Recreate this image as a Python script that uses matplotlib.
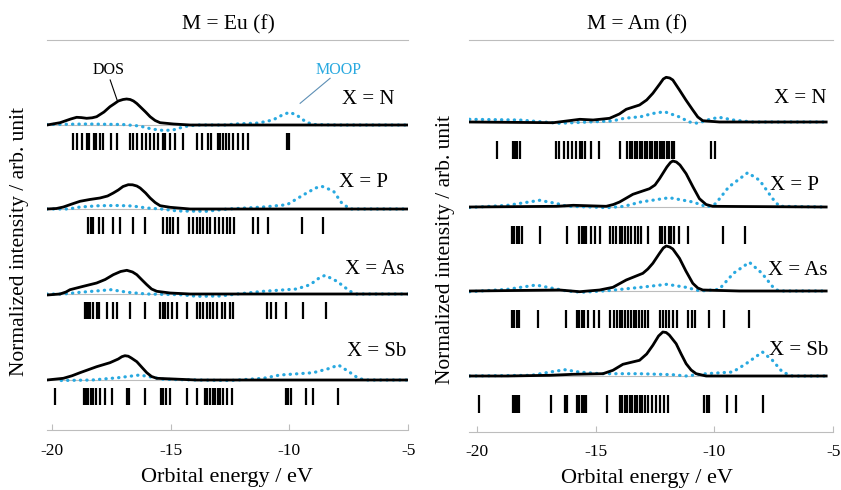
import matplotlib
matplotlib.use("Agg")
import matplotlib.pyplot as plt

plt.rcParams['font.family'] = ['Liberation Serif', 'DejaVu Serif']

# ---- datos (energia en eV, intensidad en u.a.) ----
filas = ["X = N", "X = P", "X = As", "X = Sb"]
ticks_x = [-20, -15, -10, -5]

# M = Eu (f)
eu_n_dos = [(-20.2, 0.0), (-19.65, 0.23), (-19.2, 0.6), (-18.95, 0.77), (-18.75, 0.74), (-18.53, 0.67),
            (-18.3, 0.72), (-18.11, 0.83), (-17.8, 1.3), (-17.55, 1.83), (-17.35, 2.15), (-17.2, 2.4),
            (-17.0, 2.55), (-16.85, 2.6), (-16.7, 2.55), (-16.56, 2.4), (-16.42, 2.15), (-16.28, 1.83),
            (-16.05, 1.3), (-15.86, 0.83), (-15.65, 0.45), (-15.44, 0.23), (-14.88, 0.1), (-14.18, 0.0),
            (-5.0, 0.0)]
eu_n_moop = [(-20.2, 0.05), (-18.5, 0.1), (-17.0, 0.05), (-16.3, -0.1), (-15.8, -0.4), (-15.3, -0.55),
             (-14.9, -0.5), (-14.4, -0.15), (-13.9, 0.0), (-12.7, 0.0), (-12.3, 0.1), (-11.3, 0.2),
             (-10.7, 0.5), (-10.3, 1.0), (-10.0, 1.27), (-9.7, 1.0), (-9.3, 0.3), (-9.0, 0.05), (-8.0, 0.0),
             (-5.0, 0.0)]
eu_p_dos = [(-20.2, 0.0), (-19.8, 0.05), (-19.51, 0.2), (-19.15, 0.5), (-18.81, 0.77), (-18.4, 0.95),
            (-17.97, 1.1), (-17.65, 1.3), (-17.41, 1.6), (-17.2, 1.9), (-17.0, 2.25), (-16.78, 2.43),
            (-16.6, 2.42), (-16.42, 2.3), (-16.28, 2.1), (-16.05, 1.6), (-15.86, 1.1), (-15.65, 0.65),
            (-15.44, 0.33), (-15.02, 0.17), (-14.18, 0.0), (-5.0, 0.0)]
eu_p_moop = [(-20.2, 0.0), (-19.3, 0.0), (-18.8, 0.2), (-18.0, 0.33), (-17.2, 0.35), (-16.6, 0.3),
             (-16.0, 0.1), (-15.4, 0.0), (-14.7, -0.2), (-13.5, -0.23), (-12.6, 0.0), (-11.1, 0.2),
             (-10.1, 0.43), (-9.4, 1.43), (-8.9, 2.1), (-8.64, 2.27), (-8.15, 1.8), (-7.8, 0.6),
             (-7.45, 0.0), (-5.0, 0.0)]
eu_as_dos = [(-20.2, -0.1), (-19.65, 0.0), (-19.4, 0.2), (-19.23, 0.43), (-18.67, 0.77), (-18.11, 1.1),
             (-17.75, 1.45), (-17.41, 1.93), (-17.1, 2.25), (-16.84, 2.37), (-16.6, 2.2), (-16.42, 1.93),
             (-16.2, 1.4), (-16.0, 0.93), (-15.8, 0.5), (-15.58, 0.27), (-15.02, 0.1), (-14.18, 0.0),
             (-5.0, 0.0)]
eu_as_moop = [(-20.2, 0.0), (-19.5, 0.0), (-18.8, 0.17), (-17.5, 0.43), (-16.8, 0.17), (-16.0, 0.0),
              (-14.6, -0.07), (-13.9, -0.23), (-12.9, -0.2), (-12.2, 0.0), (-11.1, 0.27), (-9.7, 0.5),
              (-9.13, 0.93), (-8.75, 1.6), (-8.5, 1.87), (-8.0, 1.27), (-7.45, 0.27), (-7.17, 0.0),
              (-5.0, 0.0)]
eu_sb_dos = [(-20.2, 0.0), (-19.51, 0.17), (-19.15, 0.42), (-18.81, 0.73), (-18.11, 1.33), (-17.55, 1.73),
             (-17.2, 2.1), (-17.05, 2.33), (-16.92, 2.43), (-16.78, 2.38), (-16.65, 2.2), (-16.42, 1.83),
             (-16.2, 1.25), (-16.0, 0.73), (-15.8, 0.35), (-15.58, 0.17), (-14.6, 0.07), (-13.9, 0.0),
             (-5.0, 0.0)]
eu_sb_moop = [(-19.6, -0.05), (-18.3, 0.0), (-17.2, 0.23), (-16.3, 0.5), (-15.9, 0.33), (-15.3, 0.07),
              (-13.9, 0.0), (-12.5, -0.05), (-11.1, 0.17), (-10.4, 0.5), (-9.0, 0.73), (-8.3, 1.17),
              (-7.94, 1.5), (-7.5, 0.83), (-7.1, 0.17), (-6.8, 0.0), (-5.0, 0.0)]

eu_n_orb = [-19.09, -18.95, -18.71, -18.5, -18.42, -18.23, -18.15, -17.97, -17.86, -17.49, -17.24,
            -16.71, -16.6, -16.43, -16.21, -16.03, -15.86, -15.69, -15.51, -15.33, -15.23, -15.02,
            -14.81, -14.49, -13.87, -13.69, -13.44, -13.31, -12.99, -12.9, -12.78, -12.67, -12.56,
            -12.36, -12.15, -11.94, -11.73, -10.09, -10.0]
eu_p_orb = [-18.46, -18.36, -18.25, -18.0, -17.86, -17.41, -17.13, -16.57, -16.07, -15.3, -15.16,
            -15.02, -14.88, -14.67, -14.21, -14.04, -13.9, -13.76, -13.62, -13.48, -13.34, -13.13,
            -12.95, -12.78, -12.64, -12.5, -12.33, -11.52, -11.31, -10.91, -9.48, -8.6]
eu_as_orb = [-18.6, -18.53, -18.46, -18.39, -18.25, -18.11, -18.0, -17.66, -17.41, -17.24, -16.71,
             -16.07, -15.44, -15.33, -15.23, -15.12, -14.95, -14.74, -14.32, -13.9, -13.76, -13.62,
             -13.48, -13.34, -13.2, -13.06, -12.85, -12.71, -12.5, -12.36, -10.93, -10.79, -10.56,
             -10.14, -9.41, -8.46]
eu_sb_orb = [-19.86, -18.64, -18.56, -18.46, -18.36, -18.25, -18.14, -17.97, -17.76, -17.48, -16.84,
             -16.73, -16.07, -15.42, -15.3, -15.19, -15.02, -14.32, -13.87, -13.55, -13.45, -13.34,
             -13.23, -13.12, -12.99, -12.9, -12.78, -12.64, -12.43, -10.14, -10.04, -9.94, -9.3,
             -8.99, -7.94]

# M = Am (f)
am_n_dos = [(-20.3, 0.0), (-16.78, -0.07), (-15.66, 0.27), (-15.1, 0.2), (-14.41, 0.37), (-14.0, 0.8),
            (-13.71, 1.27), (-13.15, 1.7), (-12.85, 2.2), (-12.59, 2.87), (-12.3, 3.8), (-12.15, 4.3),
            (-12.03, 4.47), (-11.88, 4.4), (-11.75, 4.2), (-11.47, 3.2), (-11.2, 2.2), (-10.91, 1.2),
            (-10.7, 0.5), (-10.49, 0.13), (-9.79, 0.0), (-5.3, 0.0)]
am_n_moop = [(-20.3, 0.27), (-18.2, 0.2), (-16.5, -0.13), (-15.3, 0.0), (-14.3, 0.1), (-13.8, 0.37),
             (-13.1, 0.53), (-12.6, 0.85), (-12.1, 1.03), (-11.5, 0.53), (-11.05, 0.0), (-10.7, -0.13),
             (-10.2, 0.27), (-9.8, 0.47), (-9.2, 0.2), (-8.4, 0.0), (-5.3, 0.0)]
am_p_dos = [(-20.3, 0.0), (-16.64, 0.07), (-15.94, 0.17), (-14.55, 0.07), (-14.25, 0.25), (-13.99, 0.5),
            (-13.43, 1.27), (-12.73, 1.83), (-12.5, 2.2), (-12.31, 2.83), (-12.0, 4.0), (-11.85, 4.45),
            (-11.75, 4.6), (-11.6, 4.5), (-11.45, 4.2), (-11.19, 3.33), (-10.9, 2.0), (-10.63, 0.83),
            (-10.35, 0.25), (-10.07, 0.07), (-8.95, 0.05), (-5.3, 0.0)]
am_p_moop = [(-20.3, -0.05), (-18.7, 0.17), (-17.35, 0.67), (-16.6, 0.33), (-16.2, 0.07), (-15.2, 0.0),
             (-14.5, -0.07), (-13.8, 0.07), (-13.1, 0.5), (-11.9, 0.93), (-10.9, 0.5), (-10.3, 0.0),
             (-9.95, 0.33), (-9.4, 2.0), (-8.6, 3.43), (-8.1, 2.67), (-7.55, 0.83), (-7.27, 0.07),
             (-5.3, 0.0)]
am_as_dos = [(-20.3, 0.0), (-16.5, 0.1), (-15.67, -0.07), (-14.83, 0.1), (-14.27, 0.37), (-13.71, 1.1),
             (-13.01, 1.77), (-12.8, 2.2), (-12.59, 2.77), (-12.3, 3.8), (-12.15, 4.3), (-12.03, 4.5),
             (-11.88, 4.4), (-11.75, 4.2), (-11.47, 3.27), (-11.2, 2.0), (-10.91, 0.77), (-10.7, 0.3),
             (-10.49, 0.1), (-8.95, 0.0), (-5.3, 0.0)]
am_as_moop = [(-20.3, -0.07), (-18.7, 0.17), (-17.5, 0.6), (-16.8, 0.27), (-16.2, 0.0), (-15.6, -0.13),
              (-14.5, 0.03), (-13.1, 0.37), (-12.0, 0.67), (-11.2, 0.37), (-10.6, 0.0), (-9.8, 0.17),
              (-9.2, 1.77), (-8.53, 2.87), (-8.0, 1.77), (-7.55, 0.43), (-7.3, 0.0), (-5.3, 0.0)]
am_sb_dos = [(-20.3, 0.0), (-18.74, 0.0), (-16.92, 0.07), (-15.94, 0.17), (-14.69, 0.23), (-14.27, 0.57),
             (-13.85, 1.17), (-13.15, 1.57), (-12.85, 2.2), (-12.59, 3.07), (-12.35, 4.0), (-12.17, 4.4),
             (-12.03, 4.35), (-11.9, 4.1), (-11.61, 3.23), (-11.4, 2.2), (-11.19, 1.23), (-10.98, 0.6),
             (-10.77, 0.23), (-10.35, 0.0), (-5.3, 0.0)]
am_sb_moop = [(-20.3, 0.0), (-17.7, 0.07), (-16.9, 0.4), (-16.3, 0.63), (-15.7, 0.4), (-14.8, 0.23),
              (-13.15, 0.23), (-11.75, 0.13), (-11.2, 0.0), (-10.35, 0.23), (-9.23, 0.4), (-8.67, 1.23),
              (-7.98, 2.4), (-7.56, 1.57), (-7.14, 0.4), (-6.72, 0.0), (-5.3, 0.0)]

am_n_orb = [-19.13, -18.49, -18.39, -18.29, -18.18, -16.67, -16.53, -16.34, -16.15, -15.97, -15.81,
            -15.67, -15.55, -15.43, -15.18, -14.85, -13.99, -13.68, -13.57, -13.46, -13.36, -13.26,
            -13.15, -13.04, -12.94, -12.84, -12.73, -12.63, -12.52, -12.42, -12.31, -12.2, -12.1,
            -12.0, -11.89, -11.79, -11.72, -10.14, -9.96]
am_p_orb = [-18.53, -18.43, -18.32, -18.21, -18.11, -17.34, -16.22, -15.69, -15.59, -15.5, -15.39,
            -15.18, -15.04, -14.83, -14.41, -14.27, -14.13, -13.99, -13.87, -13.76, -13.64, -13.5,
            -13.36, -13.22, -13.08, -12.8, -12.31, -12.2, -12.06, -11.92, -11.82, -11.68, -11.47,
            -11.12, -9.65, -8.7]
am_as_orb = [-18.53, -18.43, -18.32, -18.21, -17.41, -16.25, -15.78, -15.69, -15.59, -15.5, -15.32,
             -15.08, -14.85, -14.38, -14.24, -14.1, -13.99, -13.87, -13.76, -13.64, -13.52, -13.4,
             -13.29, -13.18, -13.06, -12.94, -12.8, -12.31, -12.17, -12.03, -11.89, -11.75, -11.58,
             -11.12, -10.94, -10.8, -10.24, -9.58, -8.53]
am_sb_orb = [-19.89, -18.49, -18.39, -18.29, -18.21, -16.88, -16.3, -16.2, -15.78, -15.69, -15.59,
             -15.5, -15.39, -14.52, -13.99, -13.87, -13.76, -13.66, -13.57, -13.46, -13.36, -13.26,
             -13.15, -13.04, -12.94, -12.8, -12.61, -12.45, -12.31, -12.14, -11.94, -10.42, -10.32,
             -10.21, -9.48, -9.09, -7.97]

AZUL = '#29a9e0'
GRIS = '#bdbdbd'


def graficar_panel(ax, dos, moop, orbitales, bases, etiquetas_x, stick_rango):
    for i in range(4):
        b = bases[i]
        xd = [p[0] for p in dos[i]]
        yd = [b + p[1] for p in dos[i]]
        xm = [p[0] for p in moop[i]]
        ym = [b + p[1] for p in moop[i]]
        ax.plot([xd[0], xd[-1]], [b, b], color=GRIS, lw=0.8, zorder=1)
        ax.plot(xm, ym, color=AZUL, lw=2.3, linestyle=(0, (0.1, 1.9)),
                dash_capstyle='round', zorder=2)
        ax.plot(xd, yd, color='black', lw=2.0, solid_joinstyle='round', zorder=3)
        ax.vlines(orbitales[i], b - stick_rango[1], b - stick_rango[0], color='black', lw=1.6)
        ax.text(etiquetas_x[i][0], b + etiquetas_x[i][1], filas[i], ha='right', va='center',
                fontsize=15)

    for s in ['left', 'right']:
        ax.spines[s].set_visible(False)
    ax.spines['top'].set_color(GRIS)
    ax.spines['bottom'].set_color(GRIS)
    ax.set_xticks(ticks_x)
    ax.set_xticklabels([str(t) for t in ticks_x])
    ax.tick_params(axis='x', direction='in', length=4, color=GRIS, labelsize=12.5, pad=9)
    ax.set_yticks([])


fig = plt.figure(figsize=(8.41, 4.90), dpi=100)
W, H = 841.0, 490.0

ax1 = fig.add_axes([47 / W, 1 - 430 / H, (408.3 - 47) / W, 390 / H])
ax1.set_xlim(-20.198, -5)
ax1.set_ylim(0, 39)
graficar_panel(ax1,
               [eu_n_dos, eu_p_dos, eu_as_dos, eu_sb_dos],
               [eu_n_moop, eu_p_moop, eu_as_moop, eu_sb_moop],
               [eu_n_orb, eu_p_orb, eu_as_orb, eu_sb_orb],
               [30.5, 22.1, 13.6, 5.0],
               [(-5.56, 2.5), (-5.85, 2.6), (-5.14, 2.4), (-5.09, 2.8)],
               (0.8, 2.5))

# etiquetas DOS / MOOP
ax1.text(-17.59, 36.0, "DOS", ha='center', va='center', fontsize=11.5)
ax1.plot([-17.54, -17.25], [35.0, 33.0], color='black', lw=0.8)
ax1.text(-7.94, 36.0, "MOOP", ha='center', va='center', fontsize=11.5, color=AZUL)
ax1.plot([-8.29, -9.55], [35.17, 32.67], color='#5d8fb5', lw=0.8)

ax2 = fig.add_axes([469 / W, 1 - 431.7 / H, (833.3 - 469) / W, 391.7 / H])
ax2.set_xlim(-20.323, -5)
ax2.set_ylim(0, 39.17)
graficar_panel(ax2,
               [am_n_dos, am_p_dos, am_as_dos, am_sb_dos],
               [am_n_moop, am_p_moop, am_as_moop, am_sb_moop],
               [am_n_orb, am_p_orb, am_as_orb, am_sb_orb],
               [30.97, 22.47, 14.07, 5.57],
               [(-5.3, 2.4), (-5.59, 2.2), (-5.26, 2.1), (-5.22, 2.6)],
               (1.9, 3.7))

fig.text(228 / W, 1 - 25 / H, "M = Eu (f)", ha='center', va='center', fontsize=15.5)
fig.text(637 / W, 1 - 25 / H, "M = Am (f)", ha='center', va='center', fontsize=15.5)
fig.text(227.5 / W, 1 - 477 / H, "Orbital energy / eV", ha='center', va='center', fontsize=16)
fig.text(646.7 / W, 1 - 478 / H, "Orbital energy / eV", ha='center', va='center', fontsize=16)
fig.text(20 / W, 1 - 241 / H, "Normalized intensity / arb. unit", ha='center', va='center',
         rotation=90, fontsize=15.5)
fig.text(445.7 / W, 1 - 250 / H, "Normalized intensity / arb. unit", ha='center', va='center',
         rotation=90, fontsize=15.5)

fig.savefig("out.png", dpi=100)
